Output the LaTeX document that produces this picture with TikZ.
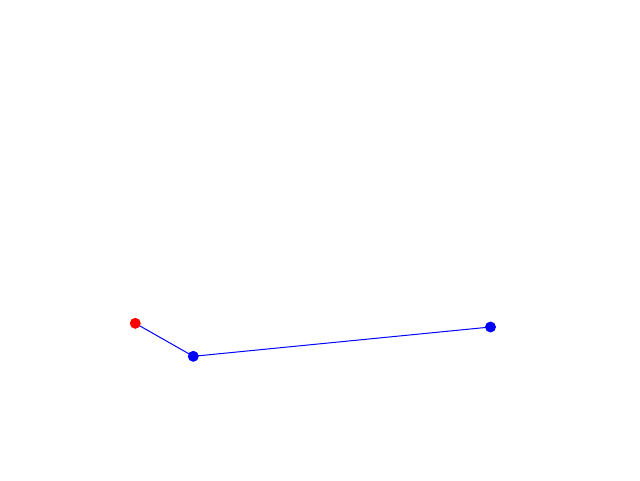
\documentclass[tikz,border=0pt]{standalone}
\usetikzlibrary{backgrounds}
\begin{document}
\begin{tikzpicture}[x=0.75pt,y=-0.75pt,
  dot/.style={circle,inner sep=0pt,minimum size=8.2pt},
  link/.style={blue,line width=0.75pt}]
\node[dot,fill=red] (a) at (135.3,323.3) {};
\node[dot,fill=blue] (b) at (193.3,356.3) {};
\node[dot,fill=blue] (c) at (490.5,327) {};
\begin{pgfonlayer}{background}
\fill[white] (0,0) rectangle (640,480);
\draw[link] (a.center) -- (b.center) -- (c.center);
\end{pgfonlayer}
\useasboundingbox (0,0) rectangle (640,480);
\end{tikzpicture}
\end{document}
